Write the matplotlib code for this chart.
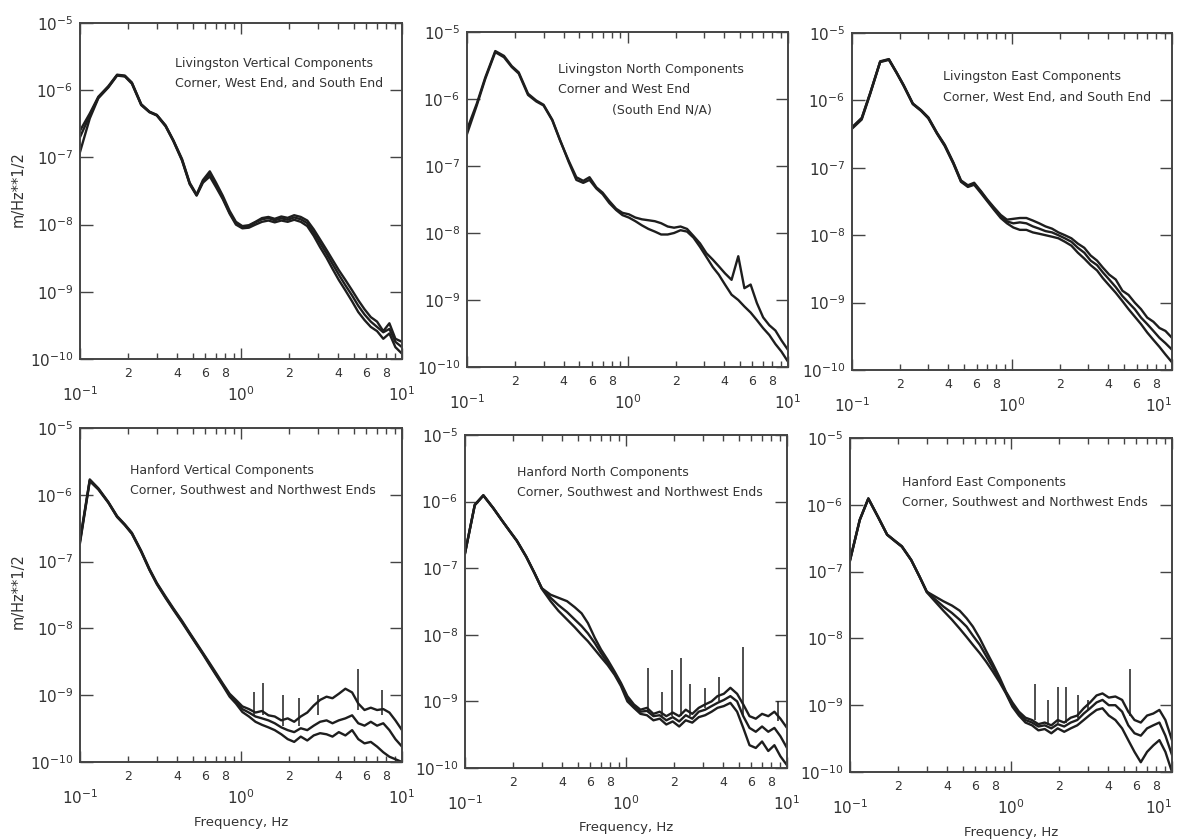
import numpy as np
import matplotlib
matplotlib.use("Agg")
import matplotlib.pyplot as plt
from matplotlib.ticker import LogLocator, FuncFormatter, NullLocator, FixedLocator

# frequency grid, Hz
freq = [0.10, 0.115, 0.13, 0.15, 0.17, 0.19, 0.21, 0.24, 0.27, 0.30, 0.34, 0.38, 0.43, 0.48,
        0.53, 0.58, 0.64, 0.70, 0.77, 0.85, 0.93, 1.02, 1.12, 1.23, 1.35, 1.48, 1.62, 1.78,
        1.95, 2.14, 2.35, 2.58, 2.83, 3.10, 3.40, 3.70, 4.05, 4.45, 4.90, 5.35, 5.85, 6.40,
        7.00, 7.65, 8.35, 9.10, 10.0]

# amplitude spectra in nm/Hz**1/2 (1e-9 m)
# Livingston vertical
lv_a = [250, 450, 800, 1150, 1700, 1650, 1300, 620, 480, 430, 300, 180, 95, 42, 28, 46, 62, 42,
        27, 16, 11, 9.5, 9.8, 11, 12.5, 13, 12.2, 13.2, 12.6, 13.8, 13, 11.5, 8.5, 6, 4.2, 3,
        2.1, 1.5, 1.05, 0.75, 0.55, 0.42, 0.36, 0.26, 0.34, 0.2, 0.18]
lv_b = [120, 380, 760, 1100, 1650, 1600, 1250, 600, 470, 420, 290, 175, 90, 40, 27, 42, 52, 36,
        24, 14.5, 10, 8.8, 9, 10, 11, 11.5, 10.8, 11.5, 11, 11.8, 11, 9.5, 6.8, 4.6, 3.2, 2.2,
        1.5, 1.05, 0.72, 0.5, 0.38, 0.3, 0.26, 0.2, 0.24, 0.15, 0.12]
lv_c = [200, 420, 780, 1120, 1680, 1620, 1280, 610, 475, 425, 295, 178, 92, 41, 27.5, 44, 57, 39,
        25, 15, 10.5, 9, 9.5, 10.8, 12, 12.5, 11.6, 12.4, 11.8, 12.8, 12, 10.5, 7.6, 5.3, 3.7, 2.6,
        1.8, 1.25, 0.88, 0.62, 0.46, 0.36, 0.3, 0.25, 0.28, 0.18, 0.15]
# Livingston north (two stations)
ln_a = [300, 800, 2000, 5000, 4200, 3000, 2400, 1150, 920, 800, 480, 240, 120, 68, 60, 68, 48, 40,
        30, 23, 20, 19, 17, 16, 15.5, 15, 14, 12.5, 12, 12.5, 11.5, 9, 7, 5, 4, 3.2, 2.5, 2.0, 4.5,
        1.5, 1.7, 0.9, 0.55, 0.42, 0.35, 0.25, 0.18]
ln_b = [350, 850, 2100, 5200, 4400, 3100, 2500, 1200, 950, 820, 490, 245, 115, 62, 56, 62, 46, 38,
        28, 22, 18.5, 17, 15, 13, 11.5, 10.5, 9.5, 9.5, 10, 11, 10.5, 8.5, 6.2, 4.4, 3.1, 2.4, 1.7,
        1.2, 1.0, 0.8, 0.65, 0.5, 0.38, 0.3, 0.22, 0.17, 0.12]
# Livingston east
le_a = [400, 550, 1300, 3800, 4100, 2600, 1700, 900, 720, 560, 330, 220, 120, 65, 55, 60, 45, 34,
        26, 20, 17, 17.5, 18, 18, 16.5, 15, 13.5, 12.5, 11, 10, 9, 7.5, 6.5, 5, 4.2, 3.3, 2.6, 2.2,
        1.5, 1.3, 1.0, 0.8, 0.6, 0.52, 0.42, 0.38, 0.3]
le_b = [380, 520, 1250, 3700, 4000, 2550, 1650, 880, 700, 540, 320, 210, 115, 62, 52, 56, 42, 32,
        24, 18, 15, 13, 12, 12, 11, 10.5, 10, 9.5, 9, 8, 7, 5.5, 4.5, 3.6, 3, 2.3, 1.8, 1.4, 1.05,
        0.8, 0.62, 0.48, 0.36, 0.28, 0.22, 0.17, 0.13]
le_c = [390, 540, 1280, 3750, 4050, 2580, 1680, 890, 710, 550, 325, 215, 118, 63, 54, 58, 44, 33,
        25, 19, 16, 15, 15.5, 15, 13.5, 12.5, 11.5, 11, 10, 9, 8, 6.5, 5.5, 4.2, 3.6, 2.8, 2.2, 1.7,
        1.25, 1.0, 0.8, 0.6, 0.48, 0.38, 0.3, 0.25, 0.2]
# Hanford vertical
hv_a = [210, 1700, 1250, 780, 480, 360, 270, 145, 78, 48, 30, 20, 13, 8.6, 6.0, 4.3, 3.0, 2.15,
        1.5, 1.05, 0.85, 0.68, 0.62, 0.55, 0.58, 0.5, 0.48, 0.42, 0.45, 0.40, 0.48, 0.55, 0.7,
        0.85, 0.95, 0.9, 1.05, 1.25, 1.1, 0.75, 0.6, 0.65, 0.6, 0.62, 0.55, 0.42, 0.3]
hv_b = [190, 1600, 1200, 760, 465, 350, 260, 140, 75, 46, 28.5, 19, 12.3, 8.2, 5.7, 4.1, 2.8, 2.0,
        1.4, 0.95, 0.75, 0.56, 0.48, 0.4, 0.36, 0.33, 0.3, 0.26, 0.22, 0.2, 0.24, 0.21, 0.25,
        0.27, 0.26, 0.24, 0.28, 0.25, 0.3, 0.22, 0.19, 0.2, 0.17, 0.14, 0.12, 0.11, 0.1]
hv_c = [200, 1650, 1230, 770, 470, 355, 265, 142, 76, 47, 29, 19.5, 12.6, 8.4, 5.8, 4.2, 2.9, 2.05,
        1.45, 1.0, 0.8, 0.62, 0.55, 0.48, 0.45, 0.42, 0.38, 0.33, 0.3, 0.28, 0.32, 0.3, 0.35,
        0.4, 0.42, 0.38, 0.42, 0.45, 0.5, 0.38, 0.35, 0.4, 0.35, 0.38, 0.3, 0.22, 0.17]
# Hanford north
hn_a = [170, 900, 1250, 800, 520, 360, 260, 150, 85, 50, 40, 36, 32, 26, 21, 15, 9, 6, 4.2, 2.8,
        1.9, 1.2, 0.9, 0.75, 0.8, 0.65, 0.7, 0.6, 0.68, 0.6, 0.75, 0.65, 0.8, 0.9, 1.0, 1.2, 1.3,
        1.6, 1.3, 0.9, 0.6, 0.55, 0.65, 0.6, 0.7, 0.55, 0.4]
hn_b = [165, 880, 1230, 790, 515, 355, 255, 148, 84, 49, 32, 23, 17, 13, 10, 8, 6, 4.6, 3.5, 2.5,
        1.7, 1.0, 0.8, 0.65, 0.62, 0.52, 0.55, 0.45, 0.5, 0.42, 0.52, 0.48, 0.58, 0.62, 0.7, 0.8,
        0.85, 0.95, 0.7, 0.4, 0.22, 0.2, 0.25, 0.18, 0.22, 0.15, 0.11]
hn_c = [168, 890, 1240, 795, 518, 358, 258, 149, 85, 50, 36, 28, 22, 17, 13.5, 10.5, 7.5, 5.3,
        3.8, 2.6, 1.8, 1.1, 0.85, 0.7, 0.72, 0.6, 0.62, 0.52, 0.58, 0.5, 0.62, 0.55, 0.7, 0.75,
        0.85, 0.95, 1.05, 1.2, 1.0, 0.6, 0.4, 0.35, 0.42, 0.35, 0.4, 0.3, 0.2]
# Hanford east
he_a = [150, 600, 1250, 650, 360, 290, 240, 150, 85, 50, 42, 36, 31, 26, 20, 15, 10, 6.5, 4.2, 2.6,
        1.6, 1.1, 0.8, 0.65, 0.6, 0.52, 0.55, 0.5, 0.6, 0.55, 0.65, 0.7, 0.9, 1.1, 1.4, 1.5, 1.3,
        1.35, 1.2, 0.8, 0.6, 0.55, 0.7, 0.75, 0.85, 0.6, 0.3]
he_b = [145, 590, 1230, 640, 355, 285, 235, 148, 84, 49, 35, 26, 19, 14, 10.5, 8, 6, 4.5, 3.2, 2.2,
        1.5, 0.95, 0.7, 0.55, 0.5, 0.42, 0.44, 0.38, 0.45, 0.4, 0.45, 0.5, 0.6, 0.72, 0.85, 0.9,
        0.7, 0.6, 0.45, 0.3, 0.2, 0.14, 0.2, 0.25, 0.3, 0.2, 0.1]
he_c = [148, 595, 1240, 645, 358, 288, 238, 149, 85, 50, 38, 30, 24, 19, 15, 11, 8, 5.5, 3.7, 2.4,
        1.55, 1.0, 0.75, 0.6, 0.55, 0.48, 0.5, 0.45, 0.52, 0.48, 0.55, 0.6, 0.75, 0.9, 1.1, 1.2,
        1.0, 1.0, 0.8, 0.5, 0.38, 0.35, 0.45, 0.5, 0.55, 0.35, 0.18]

# narrow line features (Hz, nm/Hz**1/2 bottom and top)
hv_spike_f = [1.2, 1.37, 1.83, 2.3, 3.0, 5.3, 7.5]
hv_spike_lo = [0.5, 0.5, 0.35, 0.35, 0.5, 0.6, 0.5]
hv_spike_hi = [1.1, 1.5, 1.0, 0.9, 1.0, 2.5, 1.2]
hn_spike_f = [1.37, 1.68, 1.94, 2.2, 2.5, 3.1, 3.8, 5.3, 8.8]
hn_spike_lo = [0.7, 0.6, 0.6, 0.6, 0.6, 0.8, 1.0, 0.6, 0.5]
hn_spike_hi = [3.2, 1.4, 3.0, 4.5, 1.8, 1.6, 2.3, 6.6, 1.0]
he_spike_f = [1.4, 1.7, 1.96, 2.2, 2.6, 3.0, 5.5]
he_spike_lo = [0.6, 0.5, 0.55, 0.55, 0.65, 0.85, 0.7]
he_spike_hi = [2.1, 1.2, 1.9, 1.9, 1.4, 1.2, 3.5]

titles = [
    ["Livingston Vertical Components", "Corner, West End, and South End"],
    ["Livingston North Components", "Corner and West End", "(South End N/A)"],
    ["Livingston East Components", "Corner, West End, and South End"],
    ["Hanford Vertical Components", "Corner, Southwest and Northwest Ends"],
    ["Hanford North Components", "Corner, Southwest and Northwest Ends"],
    ["Hanford East Components", "Corner, Southwest and Northwest Ends"],
]
traces = [[lv_a, lv_b, lv_c], [ln_a, ln_b], [le_a, le_b, le_c],
          [hv_a, hv_b, hv_c], [hn_a, hn_b, hn_c], [he_a, he_b, he_c]]
spikes = [None, None, None,
          (hv_spike_f, hv_spike_lo, hv_spike_hi),
          (hn_spike_f, hn_spike_lo, hn_spike_hi),
          (he_spike_f, he_spike_lo, he_spike_hi)]

W, H = 1177, 840
# panel boxes in pixels: left, right, top, bottom
boxes = [(80, 402, 23, 359), (467, 788, 32, 367), (852, 1172, 33, 370),
         (80, 402, 428, 762), (465, 787, 435, 768), (850, 1172, 438, 772)]
# title anchor (axes fraction x, y of first line)
title_pos = [(0.295, 0.88), (0.283, 0.887), (0.285, 0.87),
             (0.155, 0.874), (0.16, 0.886), (0.16, 0.868)]

ink = "#1e1e1e"
txt = "#333333"
plt.rcParams['font.family'] = ['DejaVu Sans']
plt.rcParams['mathtext.fontset'] = 'dejavusans'

fig = plt.figure(figsize=(W / 100, H / 100), dpi=100)


def minor_fmt(v, pos):
    d = int(round(v / 10 ** np.floor(np.log10(v) + 1e-9)))
    return str(d) if d in (2, 4, 6, 8) else ""


def major_fmt(v, pos):
    return r"$10^{%d}$" % int(round(np.log10(v)))


f = np.array(freq)
for i, (l, r, t, b) in enumerate(boxes):
    ax = fig.add_axes([l / W, 1 - b / H, (r - l) / W, (b - t) / H])
    for tr in traces[i]:
        ax.plot(f, np.array(tr) * 1e-9, color=ink, lw=1.7)
    if spikes[i] is not None:
        sf, lo, hi = spikes[i]
        ax.vlines(sf, np.array(lo) * 1e-9, np.array(hi) * 1e-9, color=ink, lw=1.1)
    ax.set_xscale('log')
    ax.set_yscale('log')
    ax.set_xlim(0.1, 10)
    ax.set_ylim(1e-10, 1e-5)
    ax.xaxis.set_major_locator(FixedLocator([0.1, 1, 10]))
    ax.xaxis.set_minor_locator(LogLocator(base=10, subs=range(2, 10)))
    ax.xaxis.set_major_formatter(FuncFormatter(major_fmt))
    ax.xaxis.set_minor_formatter(FuncFormatter(minor_fmt))
    ax.yaxis.set_major_locator(FixedLocator([1e-10, 1e-9, 1e-8, 1e-7, 1e-6, 1e-5]))
    ax.yaxis.set_major_formatter(FuncFormatter(major_fmt))
    ax.yaxis.set_minor_locator(NullLocator())
    ax.tick_params(which='both', direction='in', top=True, right=True, colors='#444444',
                   labelcolor=txt)
    ax.tick_params(axis='x', which='major', length=8, width=1.0, pad=19, labelsize=11)
    ax.tick_params(axis='x', which='minor', length=4, width=1.0, pad=6, labelsize=9)
    ax.tick_params(axis='y', which='major', length=9, width=1.0, pad=5, labelsize=11)
    for s in ax.spines.values():
        s.set_color('#444444')
        s.set_linewidth(1.4)
    if r > 1100:
        # keep the right-hand decade label inside the figure
        fig.canvas.draw()
        ax.get_xticklabels()[-1].set_horizontalalignment('right')
    x0, y0 = title_pos[i]
    for k, line in enumerate(titles[i]):
        xx = x0 if k < 2 else x0 + 0.17
        ax.text(xx, y0 - 0.06 * k, line, transform=ax.transAxes, fontsize=9,
                color=txt, va='center', ha='left')
    if i >= 3:
        ax.text(0.5, -0.18, "Frequency, Hz", transform=ax.transAxes, fontsize=9.5,
                color=txt, ha='center', va='center')

fig.text(18 / W, 1 - 189 / H, "m/Hz**1/2", rotation=90, fontsize=10.5, color=txt,
         ha='center', va='center')
fig.text(18 / W, 1 - 591 / H, "m/Hz**1/2", rotation=90, fontsize=10.5, color=txt,
         ha='center', va='center')

fig.savefig("out.png", dpi=100, facecolor='white')
